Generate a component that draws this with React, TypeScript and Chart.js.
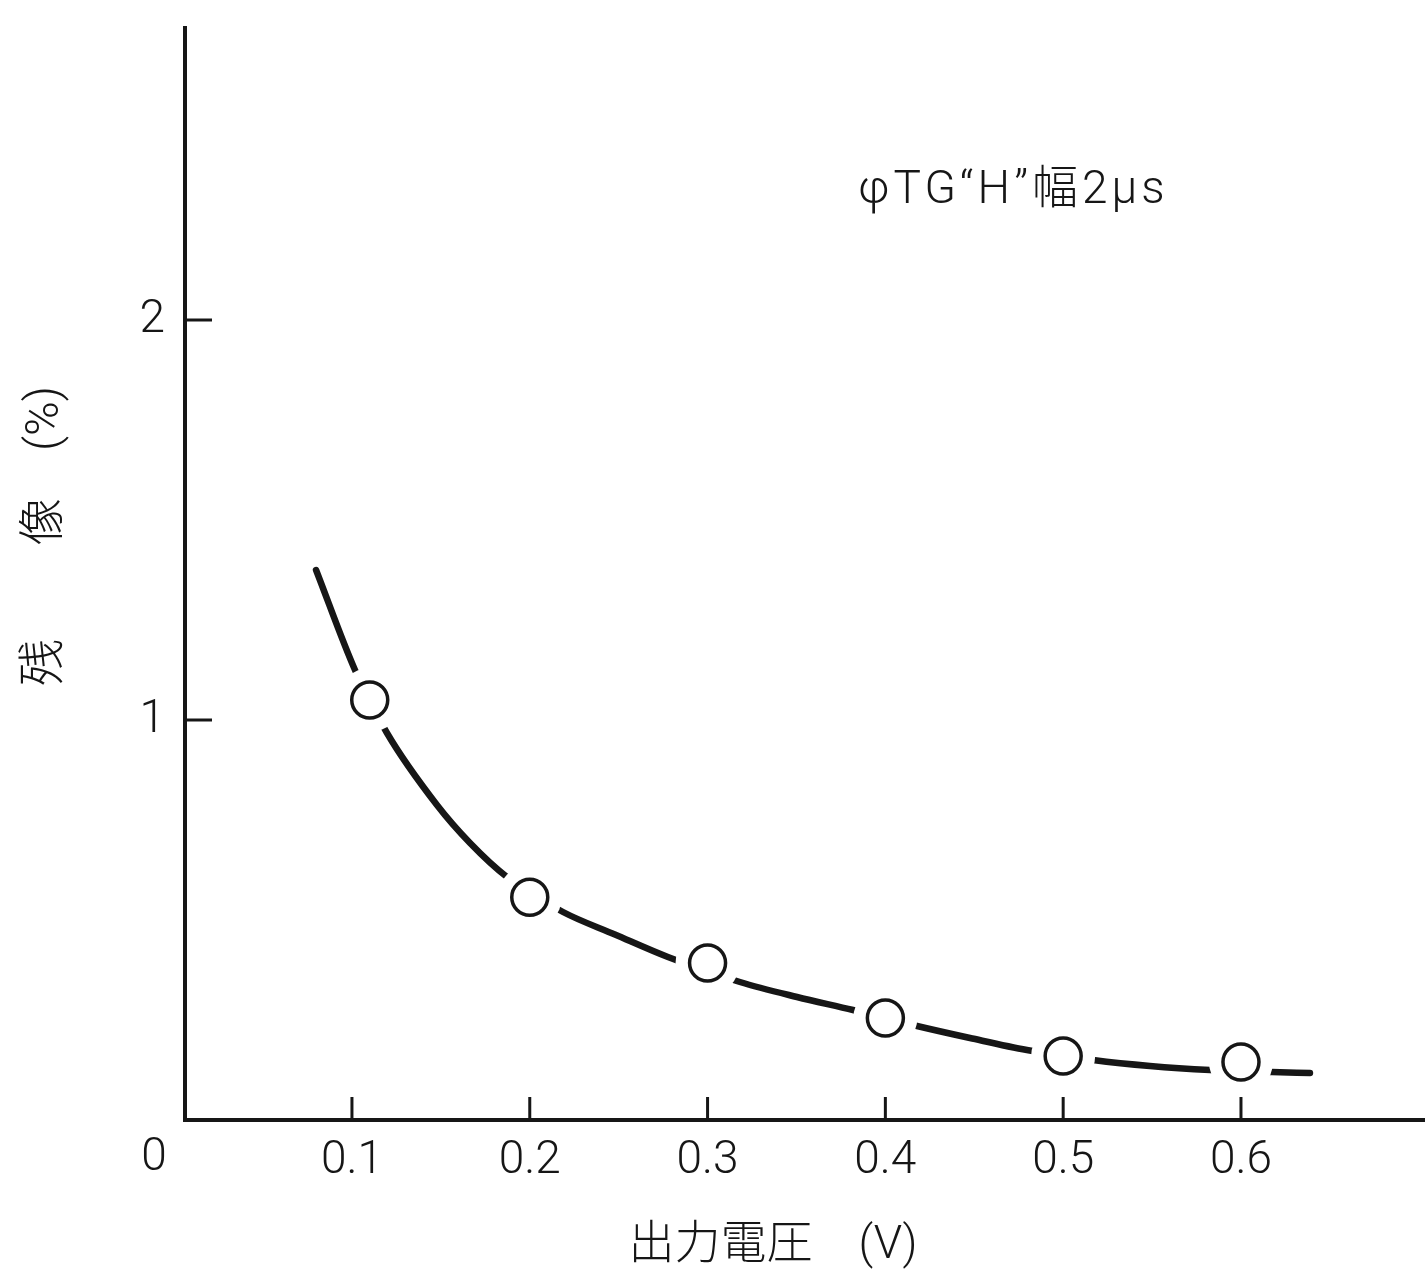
import React, { useEffect, useRef } from "react";
import { Chart, registerables } from "chart.js";

Chart.register(...registerables);

// ---- data ----
const xTickValues = [0.1, 0.2, 0.3, 0.4, 0.5, 0.6];
const yTickValues = [1, 2];
const originLabel = "0";

const measuredX = [0.11, 0.2, 0.3, 0.4, 0.5, 0.6];
const measuredY = [1.05, 0.557, 0.3925, 0.255, 0.16, 0.145];

const curveX = [
  0.0798, 0.1017, 0.1197, 0.1478, 0.1664, 0.1872, 0.2187, 0.2479, 0.2777, 0.3182,
  0.3503, 0.3818, 0.4178, 0.4476, 0.4796, 0.5168, 0.5488, 0.5826, 0.6174, 0.6388,
];
const curveY = [
  1.375, 1.125, 0.9675, 0.7875, 0.6925, 0.6075, 0.52, 0.4638, 0.4075, 0.345,
  0.3075, 0.275, 0.235, 0.205, 0.175, 0.15, 0.135, 0.125, 0.12, 0.1175,
];

const xTitle = "出力電圧　(V)";
const yTitle = "残　　像　(%)";
const note = "φTG“H”幅2μs";

const X_MIN = 0.0061;
const X_MAX = 0.7035;
const Y_MIN = 0;
const Y_MAX = 2.73;

const INK = "#161616";
const FONT = "Roboto, 'Noto Sans CJK JP', sans-serif";
const NO_PAD = () => ({ left: 0, top: 0, right: 0, bottom: 0 });

const decorPlugin = {
  id: "decor",
  afterDraw(chart: any) {
    const { ctx, chartArea, scales } = chart;
    const xs = scales.x;
    const ys = scales.y;
    ctx.save();
    // inner tick marks
    ctx.strokeStyle = INK;
    ctx.lineWidth = 3;
    ctx.lineCap = "butt";
    xTickValues.forEach((v) => {
      const px = xs.getPixelForValue(v);
      ctx.beginPath();
      ctx.moveTo(px, chartArea.bottom);
      ctx.lineTo(px, chartArea.bottom - 23);
      ctx.stroke();
    });
    yTickValues.forEach((v) => {
      const py = ys.getPixelForValue(v);
      ctx.beginPath();
      ctx.moveTo(chartArea.left, py);
      ctx.lineTo(chartArea.left + 27, py);
      ctx.stroke();
    });

    ctx.fillStyle = INK;
    ctx.font = `300 46px ${FONT}`;
    // origin label
    ctx.textAlign = "center";
    ctx.textBaseline = "middle";
    ctx.fillText(originLabel, chartArea.left - 31, chartArea.bottom + 38);

    // x title
    ctx.fillText(xTitle, 773, chartArea.bottom + 126);

    // y title (rotated, reading bottom to top)
    ctx.save();
    ctx.translate(46, 686);
    ctx.rotate(-Math.PI / 2);
    ctx.font = `300 47px ${FONT}`;
    ctx.textAlign = "left";
    ctx.textBaseline = "middle";
    ctx.fillText(yTitle, 0, 0);
    ctx.restore();

    // annotation
    ctx.textAlign = "left";
    ctx.textBaseline = "alphabetic";
    try {
      (ctx as any).letterSpacing = "4px";
    } catch (e) {}
    ctx.fillText(note, 858, 203);
    ctx.restore();
  },
};

export default function App() {
  const ref = useRef<HTMLCanvasElement | null>(null);

  useEffect(() => {
    if (!ref.current) return;
    const curve = curveX.map((x, i) => ({ x, y: curveY[i] }));
    const points = measuredX.map((x, i) => ({ x, y: measuredY[i] }));

    const chart = new Chart(ref.current, {
      type: "scatter",
      data: {
        datasets: [
          {
            label: "measured",
            data: points,
            pointRadius: 18,
            pointBorderWidth: 3.5,
            pointBackgroundColor: "#ffffff",
            pointBorderColor: INK,
            showLine: false,
          } as any,
          {
            label: "halo",
            data: points,
            pointRadius: 32,
            pointBorderWidth: 0,
            pointBackgroundColor: "#ffffff",
            pointBorderColor: "rgba(0,0,0,0)",
            showLine: false,
          } as any,
          {
            label: "curve",
            type: "line",
            data: curve,
            borderColor: INK,
            borderWidth: 6.5,
            borderCapStyle: "round",
            pointRadius: 0,
            fill: false,
            cubicInterpolationMode: "monotone",
            showLine: true,
          } as any,
        ],
      },
      options: {
        animation: false,
        responsive: true,
        maintainAspectRatio: false,
        events: [],
        layout: {
          autoPadding: false,
          padding: { top: 28, right: 0, left: 0, bottom: 0 },
        } as any,
        plugins: {
          legend: { display: false },
          tooltip: { enabled: false },
          title: { display: false },
        },
        scales: {
          x: {
            type: "linear",
            min: X_MIN,
            max: X_MAX,
            grid: { display: false },
            border: { display: true, color: INK, width: 4 },
            afterBuildTicks: (scale: any) => {
              scale.ticks = xTickValues.map((v) => ({ value: v }));
            },
            afterFit: (scale: any) => {
              scale.height = 154;
              scale.paddingLeft = 0;
              scale.paddingRight = 0;
              scale.getPadding = NO_PAD;
            },
            ticks: {
              padding: 6,
              color: INK,
              autoSkip: false,
              maxRotation: 0,
              font: { family: FONT, size: 46, weight: "300" as any },
              callback: (v: any) => Number(v).toFixed(1),
            },
          },
          y: {
            type: "linear",
            min: Y_MIN,
            max: Y_MAX,
            grid: { display: false },
            border: { display: true, color: INK, width: 4 },
            afterBuildTicks: (scale: any) => {
              scale.ticks = yTickValues.map((v) => ({ value: v }));
            },
            afterFit: (scale: any) => {
              scale.width = 185;
              scale.paddingTop = 0;
              scale.paddingBottom = 0;
              scale.getPadding = NO_PAD;
            },
            ticks: {
              padding: 12,
              color: INK,
              font: { family: FONT, size: 46, weight: "300" as any },
              callback: (v: any) => String(v),
            },
          },
        },
      },
      plugins: [decorPlugin],
    });
    return () => chart.destroy();
  }, []);

  return (
    <div
      style={{
        position: "fixed",
        left: 0,
        top: 0,
        width: 1425,
        height: 1274,
        background: "#ffffff",
      }}
    >
      <canvas ref={ref} />
    </div>
  );
}
